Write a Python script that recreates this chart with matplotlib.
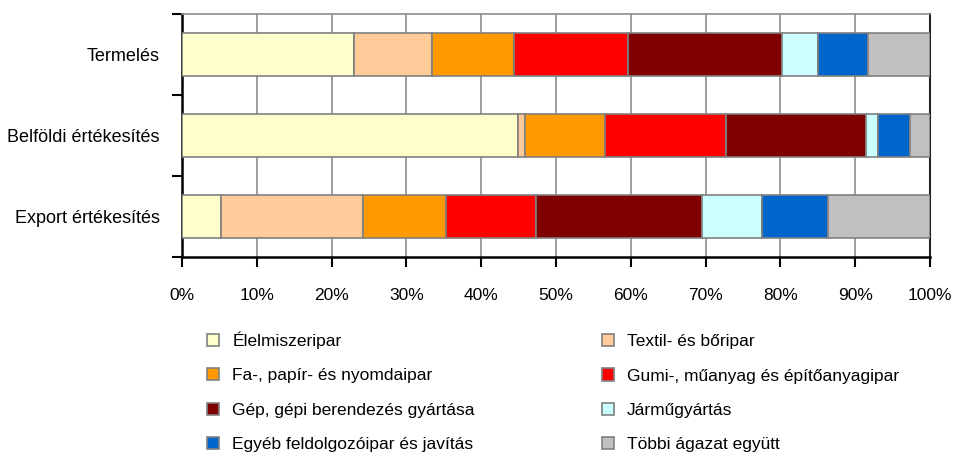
import matplotlib
matplotlib.use("Agg")
import matplotlib.pyplot as plt
from matplotlib.patches import Patch
import numpy as np

plt.rcParams['font.family'] = ['Liberation Sans', 'DejaVu Sans']

# categories (top to bottom) and sector shares in %
categories = ['Termelés', 'Belföldi értékesítés', 'Export értékesítés']
sectors = ['Élelmiszeripar', 'Textil- és bőripar', 'Fa-, papír- és nyomdaipar',
           'Gumi-, műanyag és építőanyagipar', 'Gép, gépi berendezés gyártása',
           'Járműgyártás', 'Egyéb feldolgozóipar és javítás', 'Többi ágazat együtt']
elelmiszer = [23.0, 44.9, 5.2]
textil = [10.4, 1.0, 19.0]
fa_papir = [11.0, 10.7, 11.1]
gumi = [15.2, 16.1, 12.0]
gep = [20.6, 18.7, 22.2]
jarmu = [4.8, 1.6, 8.0]
egyeb = [6.7, 4.3, 8.9]
tobbi = [8.3, 2.7, 13.6]
colors = ['#FFFFCC', '#FFCC99', '#FF9900', '#FF0000', '#800000',
          '#CCFFFF', '#0066CC', '#C0C0C0']

series = [elelmiszer, textil, fa_papir, gumi, gep, jarmu, egyeb, tobbi]

fig = plt.figure(figsize=(9.55, 4.58), dpi=100)
ax = fig.add_axes([182/955, 1-257/458, (930-182)/955, (257-14)/458])

y = np.arange(len(categories))
left = np.zeros(len(categories))
for vals, col, name in zip(series, colors, sectors):
    ax.barh(y, vals, left=left, height=0.52, color=col, edgecolor='#808080',
            linewidth=1.2, label=name, zorder=3)
    left += np.array(vals)

ax.set_xlim(0, 100)
ax.set_ylim(2.5, -0.5)
ax.set_xticks(np.arange(0, 101, 10))
ax.set_xticklabels([f'{v}%' for v in range(0, 101, 10)])
ax.set_yticks([-0.5, 0.5, 1.5, 2.5])
ax.set_yticklabels([])
ax.set_yticks(y, minor=True)
ax.set_yticklabels(categories, minor=True)
ax.tick_params(axis='y', which='minor', length=0, pad=16, labelsize=13)
ax.tick_params(axis='y', which='major', length=7, width=1.5, color='black')
ax.tick_params(axis='x', length=7, width=1.5, pad=15, labelsize=12.5)
ax.xaxis.grid(True, color='#8c8c8c', linewidth=1.2, zorder=0)
ax.set_axisbelow(True)

ax.spines['left'].set_linewidth(1.8)
ax.spines['bottom'].set_linewidth(1.8)
ax.spines['top'].set_color('#8c8c8c')
ax.spines['top'].set_linewidth(1.2)
ax.spines['right'].set_color('#222222')
ax.spines['right'].set_linewidth(1.5)

handles = [Patch(facecolor=c, edgecolor='#808080', linewidth=1.2) for c in colors]
leg_kw = dict(frameon=False, loc='upper left', fontsize=12.5, borderpad=0,
              borderaxespad=0, handlelength=0.7, handleheight=0.7,
              handletextpad=0.75, labelspacing=1.11)
fig.legend(handles[0::2], sectors[0::2], bbox_to_anchor=(207/955, 1-331.5/458), **leg_kw)
fig.legend(handles[1::2], sectors[1::2], bbox_to_anchor=(602/955, 1-334/458), **leg_kw)

fig.savefig('out.png', dpi=100)
